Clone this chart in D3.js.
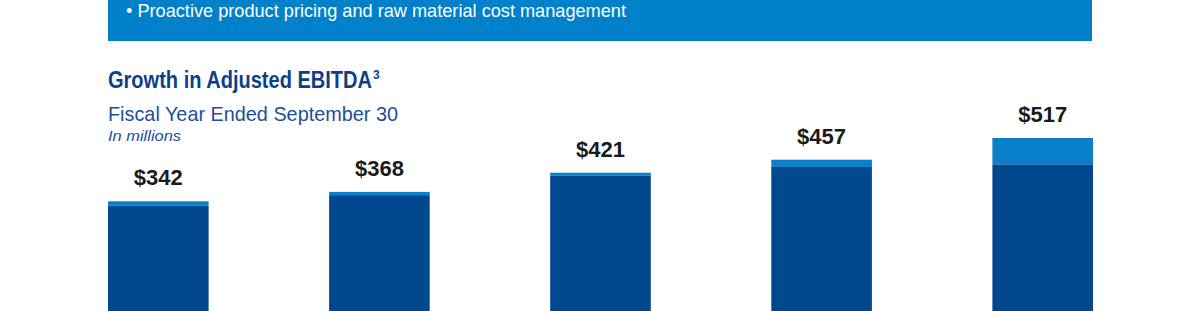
<!DOCTYPE html>
<html>
<head>
<meta charset="utf-8">
<script src="https://cdn.jsdelivr.net/npm/d3@7"></script>
<style>
  body { margin: 0; background: #fff; }
  svg { display: block; font-family: "Liberation Sans", Arial, sans-serif; }
</style>
</head>
<body>
<div id="the_chart"></div>
<script>
// fiscal years (not labelled on the chart itself)
var years = ["FY1", "FY2", "FY3", "FY4", "FY5"];
var totals = [342, 368, 421, 457, 517];
// dark (base) part and light (top) part of each bar
var baseVals = [330, 359, 413, 437, 444];
var topVals = [12, 9, 8, 20, 73];

var w = 1200;
var h = 311;

var svg = d3.select("#the_chart")
            .append("svg")
            .attr("width", w)
            .attr("height", h);

// blue highlight box at the top
svg.append("rect")
   .attr("x", 108).attr("y", -10)
   .attr("width", 984).attr("height", 51)
   .attr("fill", "#0081ca");

svg.append("text")
   .attr("x", 126).attr("y", 17)
   .attr("fill", "#fff")
   .attr("font-size", 19)
   .attr("textLength", 500)
   .attr("lengthAdjust", "spacingAndGlyphs")
   .text("\u2022 Proactive product pricing and raw material cost management");

// titles
svg.append("text")
   .attr("x", 108).attr("y", 88)
   .attr("fill", "#0d3f88")
   .attr("font-size", 23)
   .attr("font-weight", "bold")
   .attr("textLength", 264)
   .attr("lengthAdjust", "spacingAndGlyphs")
   .text("Growth in Adjusted EBITDA");

svg.append("text")
   .attr("x", 373).attr("y", 79)
   .attr("fill", "#0d3f88")
   .attr("font-size", 12)
   .attr("font-weight", "bold")
   .text("3");

svg.append("text")
   .attr("x", 108).attr("y", 121)
   .attr("fill", "#1c4e9c")
   .attr("font-size", 21)
   .attr("textLength", 290)
   .attr("lengthAdjust", "spacingAndGlyphs")
   .text("Fiscal Year Ended September 30");

svg.append("text")
   .attr("x", 108).attr("y", 141)
   .attr("fill", "#1c4e9c")
   .attr("font-size", 15)
   .attr("font-style", "italic")
   .attr("textLength", 73)
   .attr("lengthAdjust", "spacingAndGlyphs")
   .text("In millions");

// scales
var xscale = d3.scaleBand()
               .domain(years)
               .range([108, 1093])
               .paddingInner(0.545)
               .paddingOuter(0);

var yscale = d3.scaleLinear()
               .domain([0, 517])
               .range([325, 138]);

var data = years.map(function(d, i) {
    return {year: d, base: baseVals[i], top: topVals[i], total: totals[i]};
});

var bars = svg.selectAll("g.bar")
    .data(data)
  .enter().append("g")
    .attr("class", "bar");

// light top segment
bars.append("rect")
    .attr("x", function(d) { return xscale(d.year); })
    .attr("width", xscale.bandwidth())
    .attr("y", function(d) { return yscale(d.base + d.top); })
    .attr("height", function(d) { return yscale(d.base) - yscale(d.base + d.top); })
    .attr("fill", "#0a80cb");

// dark base segment
bars.append("rect")
    .attr("x", function(d) { return xscale(d.year); })
    .attr("width", xscale.bandwidth())
    .attr("y", function(d) { return yscale(d.base); })
    .attr("height", function(d) { return yscale(0) - yscale(d.base); })
    .attr("fill", "#01488e");

bars.append("text")
    .attr("x", function(d) { return xscale(d.year) + xscale.bandwidth() / 2; })
    .attr("y", function(d) { return yscale(d.total) - 16; })
    .attr("text-anchor", "middle")
    .attr("font-size", 22)
    .attr("font-weight", "bold")
    .attr("fill", "#1a1a1a")
    .text(function(d) { return "$" + d.total; });
</script>
</body>
</html>
